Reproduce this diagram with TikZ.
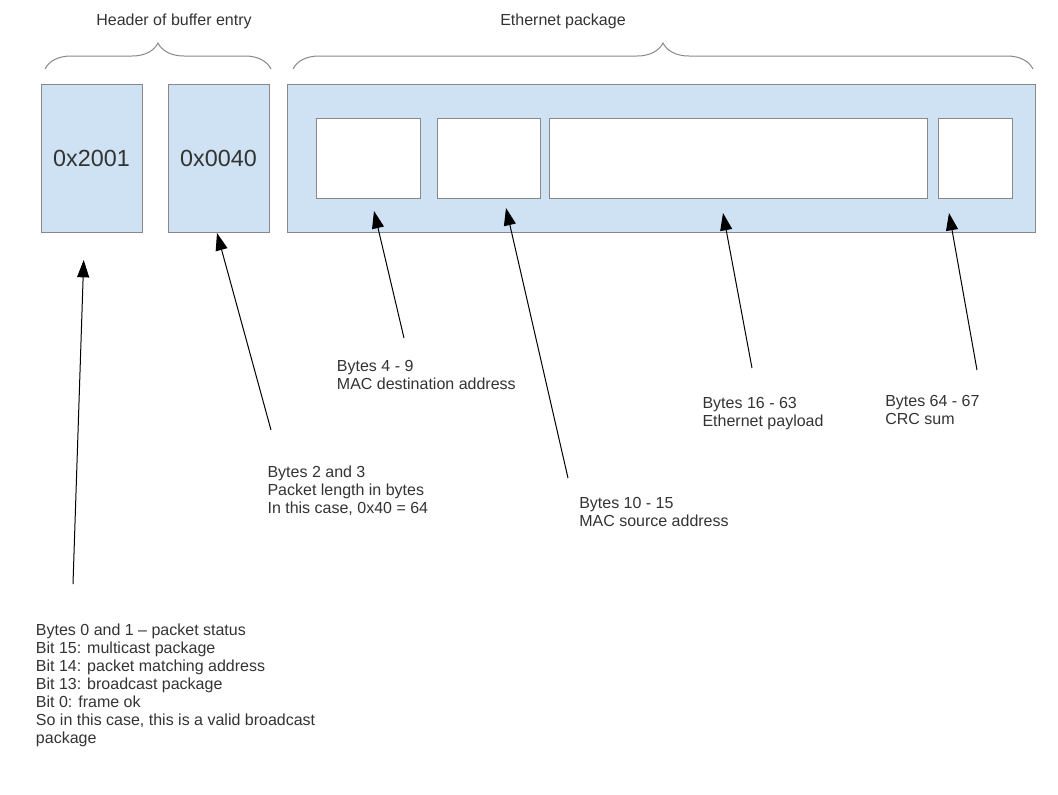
\documentclass[tikz,border=0pt]{standalone}
\usepackage{fontspec}
\setmainfont{Liberation Sans}
\usetikzlibrary{arrows.meta,decorations.pathreplacing}
\definecolor{cellblue}{HTML}{CFE2F3}
\definecolor{edgegray}{HTML}{888888}
\definecolor{inkgray}{HTML}{333333}

\begin{document}
\begin{tikzpicture}[x=0.75pt,y=-0.75pt,
  cell/.style={draw=edgegray,fill=cellblue,line width=0.75pt},
  slot/.style={draw=edgegray,fill=white,line width=0.75pt,minimum height=60pt},
  hexval/.style={font=\fontsize{17.5}{20}\selectfont,text=inkgray},
  note/.style={font=\fontsize{12}{13.5}\selectfont,align=left,anchor=base west,text=inkgray},
  title/.style={font=\fontsize{12}{13.5}\selectfont,anchor=base,text=inkgray},
  brc/.style={draw=edgegray,line width=0.75pt,decorate,decoration={brace,amplitude=19.5pt}},
  ptr/.style={-{Triangle[length=13pt,width=9pt]},line width=0.75pt}]
\tikzstyle{every node}+=[inner sep=0pt]
\useasboundingbox (0,0) rectangle (1058,794);
\node[cell,hexval,minimum width=75.75pt,minimum height=111pt] (status) at (91.5,158) {0x2001};
\node[cell,hexval,minimum width=75.75pt,minimum height=111pt] (length) at (218.5,158) {0x0040};
\node[cell,minimum width=561pt,minimum height=111pt] (frame) at (661,158) {};
\node[slot,minimum width=78pt] (dst) at (368,158) {};
\node[slot,minimum width=77.25pt] (src) at (488.5,158) {};
\node[slot,minimum width=283.5pt] (payload) at (738,158) {};
\node[slot,minimum width=55.5pt] (crc) at (975,158) {};
\draw[brc] (45,69) -- (271,69);
\draw[brc] (293,69) -- (1033,69);
\node[title] (hdrtitle) at (174,25) {Header of buffer entry};
\node[title] (ethtitle) at (563,25) {Ethernet package};
\node[note] (statusnote) at (35.7,743) {Bytes 0 and 1 – packet status\\Bit 15: multicast package\\Bit 14: packet matching address\\Bit 13: broadcast package\\Bit 0: frame ok\\So in this case, this is a valid broadcast\\package};
\node[note] (lengthnote) at (267.3,513.7) {Bytes 2 and 3\\Packet length in bytes\\In this case, 0x40 = 64};
\node[note] (dstnote) at (336.7,389.7) {Bytes 4 - 9\\MAC destination address};
\node[note] (srcnote) at (579,526.3) {Bytes 10 - 15\\MAC source address};
\node[note] (payloadnote) at (702.3,426) {Bytes 16 - 63\\Ethernet payload};
\node[note] (crcnote) at (885,424) {Bytes 64 - 67\\CRC sum};
\coordinate (statustail) at (73,584);
\coordinate (statustip) at (83.7,260);
\coordinate (lengthtail) at (271,430);
\coordinate (lengthtip) at (217,233);
\coordinate (dsttail) at (404,338);
\coordinate (dsttip) at (374,211);
\coordinate (srctail) at (568,478);
\coordinate (srctip) at (506,208);
\coordinate (payloadtail) at (752,368);
\coordinate (payloadtip) at (723,213);
\coordinate (crctail) at (977,370);
\coordinate (crctip) at (949,213);
\draw[ptr] (statustail) -- (statustip);
\draw[ptr] (lengthtail) -- (lengthtip);
\draw[ptr] (dsttail) -- (dsttip);
\draw[ptr] (srctail) -- (srctip);
\draw[ptr] (payloadtail) -- (payloadtip);
\draw[ptr] (crctail) -- (crctip);
\end{tikzpicture}
\end{document}
